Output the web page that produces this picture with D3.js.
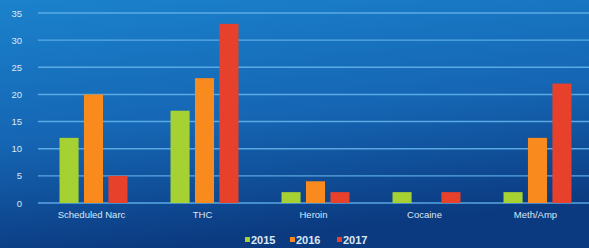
<!DOCTYPE html>
<html><head><meta charset="utf-8">
<script src="https://cdn.jsdelivr.net/npm/d3@7"></script>
<style>html,body{margin:0;padding:0;overflow:hidden;background:#0f4f9c}</style>
</head><body>
<svg id="c" width="589" height="248"></svg>
<script>
const categories = ["Scheduled Narc", "THC", "Heroin", "Cocaine", "Meth/Amp"];
const years = ["2015", "2016", "2017"];
const values2015 = [12, 17, 2, 2, 2];
const values2016 = [20, 23, 4, 0, 12];
const values2017 = [5, 33, 2, 2, 22];
const yTicks = [0, 5, 10, 15, 20, 25, 30, 35];
const colors = ["#a6d133", "#f88a1e", "#e8412b"];

const series = [values2015, values2016, values2017];
const svg = d3.select("#c");
const W = 589, H = 248;

const defs = svg.append("defs");
const bg = defs.append("linearGradient").attr("id","bg").attr("x1","0").attr("y1","0").attr("x2","0.25").attr("y2","1");
bg.append("stop").attr("offset","0").attr("stop-color","#1b82cc");
bg.append("stop").attr("offset","0.55").attr("stop-color","#1565b3");
bg.append("stop").attr("offset","1").attr("stop-color","#0b3a80");
svg.append("rect").attr("width",W).attr("height",H).attr("fill","url(#bg)");

const x = d3.scaleBand().domain(categories).range([38, 593]).paddingInner(0).paddingOuter(0);
const xs = d3.scaleBand().domain(years).range([0, x.bandwidth()]).paddingInner(0.22).paddingOuter(0.88);
const y = d3.scaleLinear().domain([0, 35]).range([203, 13]);

// gridlines
svg.append("g").selectAll("line").data(yTicks).join("line")
  .attr("x1", 38).attr("x2", W).attr("y1", d => y(d)).attr("y2", d => y(d))
  .attr("stroke", "#62b2ea").attr("stroke-width", 1.4).attr("opacity", 0.9);

// y axis labels
const yAxis = d3.axisLeft(y).tickValues(yTicks).tickSize(0).tickPadding(0);
const gy = svg.append("g").attr("transform","translate(22,0)").call(yAxis);
gy.select(".domain").remove();
gy.selectAll("text").attr("fill","#dbe8f5").attr("font-family","Liberation Sans, Arial, sans-serif").attr("font-size","9.5px");

// bars
const groups = svg.append("g").selectAll("g").data(categories).join("g")
  .attr("transform", d => `translate(${x(d)},0)`);
groups.selectAll("rect").data((c, i) => years.map((yr, j) => ({yr, v: series[j][i], j})))
  .join("rect")
  .attr("x", d => xs(d.yr)).attr("width", xs.bandwidth())
  .attr("y", d => y(d.v)).attr("height", d => y(0) - y(d.v))
  .attr("fill", d => colors[d.j]);

// x axis labels
const xAxis = d3.axisBottom(x).tickSize(0).tickPadding(0);
const gx = svg.append("g").attr("transform","translate(-2,211)").call(xAxis);
gx.select(".domain").remove();
gx.selectAll("text").attr("fill","#dbe8f5").attr("font-family","Liberation Sans, Arial, sans-serif").attr("font-size","9.5px");

// legend
const legX = [245, 290, 337];
const leg = svg.append("g").selectAll("g").data(years).join("g")
  .attr("transform", (d, i) => `translate(${legX[i]},240)`);
leg.append("rect").attr("x",0).attr("y",-3).attr("width",5).attr("height",5).attr("fill",(d,i)=>colors[i]);
leg.append("text").attr("x",6).attr("y",0).attr("dy","0.35em").text(d=>d)
  .attr("fill","#dbe8f5").attr("font-family","Liberation Sans, Arial, sans-serif").attr("font-size","11px").attr("font-weight","bold");
</script>
</body></html>
